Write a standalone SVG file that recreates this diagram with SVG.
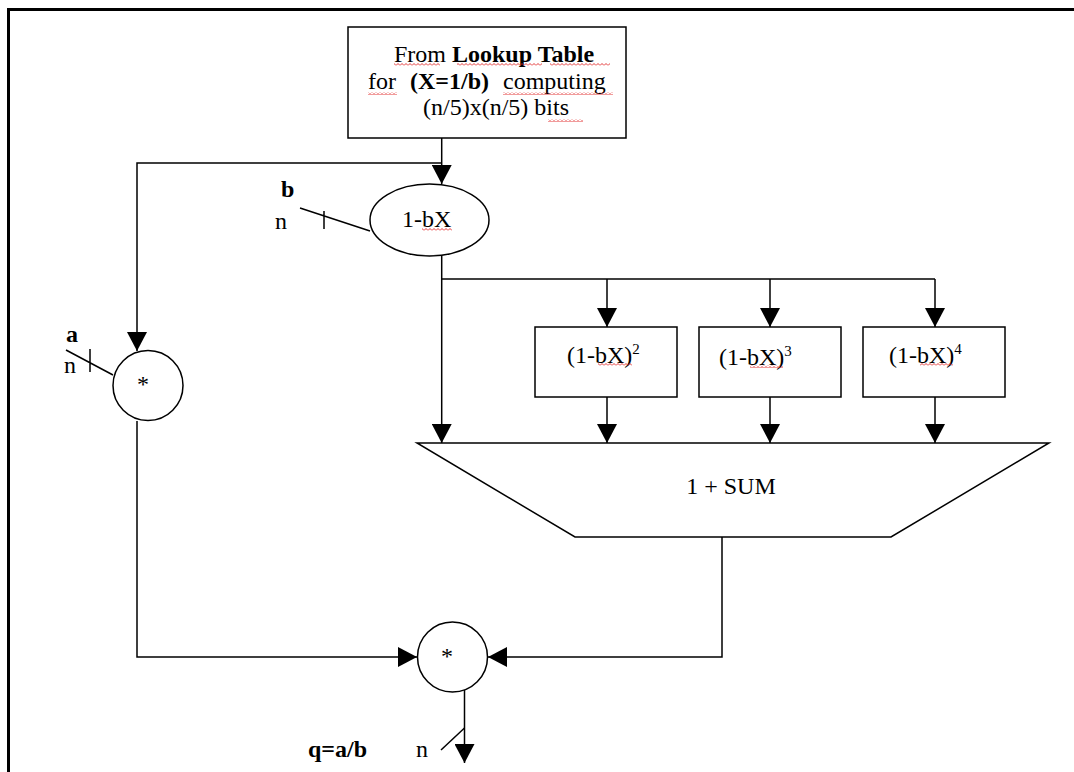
<svg xmlns="http://www.w3.org/2000/svg" width="1074" height="772" viewBox="0 0 1074 772">
<style>
  .ln{fill:none;stroke:#000;stroke-width:1.5}
  .sh{fill:#fff;stroke:#000;stroke-width:1.5}
  .t{font-family:"Liberation Serif","Times New Roman",serif;font-size:24px;fill:#000}
  .b{font-weight:bold}
  .sup{font-size:15px}
  .arr{fill:none;stroke:#000;stroke-width:1.5;marker-end:url(#ah)}
</style>
<defs>
  <marker id="ah" markerUnits="userSpaceOnUse" markerWidth="20" markerHeight="20" refX="19" refY="10" orient="auto">
    <path d="M0,0 L19,10 L0,20 Z" fill="#000"/>
  </marker>
  <pattern id="sq" width="4" height="3" patternUnits="userSpaceOnUse">
    <path d="M0,2.5 L2,0.5 L4,2.5" fill="none" stroke="#e02020" stroke-width="0.9"/>
  </pattern>
</defs>
<rect width="1074" height="772" fill="#fff"/>
<!-- outer frame -->
<path d="M7,9.5 H1074 M8.5,8 V772" fill="none" stroke="#000" stroke-width="3"/>

<g id="connectors">
  <path class="arr" d="M441.7,138 V184"/>
  <path class="arr" d="M441.7,163 H137 V351"/>
  <path class="arr" d="M441.7,256 V443"/>
  <path class="ln" d="M441.7,279 H935"/>
  <path class="arr" d="M607,279 V327"/>
  <path class="arr" d="M770,279 V327"/>
  <path class="arr" d="M935,279 V327"/>
  <path class="arr" d="M607,397 V443"/>
  <path class="arr" d="M770,397 V443"/>
  <path class="arr" d="M935,397 V443"/>
  <path class="arr" d="M722,537 V657 H488"/>
  <path class="arr" d="M137,421 V657 H417"/>
  <path class="arr" d="M464.5,690 V763"/>
  <!-- bus width marks -->
  <path class="ln" d="M300,208 L370,231 M324,211 V229"/>
  <path class="ln" d="M66,350 L113,375 M90,349 V372"/>
  <path class="ln" d="M441,750 L464.5,728"/>
</g>

<g id="lookup">
  <rect class="sh" x="348" y="27" width="278" height="111"/>
  <text class="t" y="62"><tspan x="394">From </tspan><tspan class="b">Lookup Table</tspan></text>
  <text class="t" y="89"><tspan x="368">for</tspan><tspan class="b" x="410">(X=1/b)</tspan><tspan x="503">computing</tspan></text>
  <text class="t" x="423" y="115">(n/5)x(n/5) bits</text>
  <rect x="394" y="63" width="46" height="3" fill="url(#sq)"/>
  <rect x="457" y="63" width="85" height="3" fill="url(#sq)"/>
  <rect x="550" y="63" width="60" height="3" fill="url(#sq)"/>
  <rect x="368" y="92" width="29" height="3" fill="url(#sq)"/>
  <rect x="503" y="92" width="110" height="3" fill="url(#sq)"/>
  <rect x="548" y="119" width="35" height="3" fill="url(#sq)"/>
</g>

<g id="oneMinusBX">
  <ellipse class="sh" cx="429.5" cy="220" rx="59.5" ry="36"/>
  <text class="t" x="402" y="227">1-bX</text>
  <rect x="422" y="228" width="30" height="3" fill="url(#sq)"/>
</g>

<g id="labelB">
  <text class="t b" x="281" y="197">b</text>
  <text class="t" x="275" y="229">n</text>
</g>

<g id="mulA">
  <circle class="sh" cx="148" cy="385.5" r="35"/>
  <text class="t" x="137" y="392">*</text>
</g>

<g id="labelA">
  <text class="t b" x="66" y="342">a</text>
  <text class="t" x="64" y="373">n</text>
</g>

<g id="pow2">
  <rect class="sh" x="535" y="327" width="142" height="70"/>
  <text class="t" x="567" y="363">(1-bX)<tspan class="sup" dy="-9">2</tspan></text>
  <rect x="598" y="363" width="34" height="3" fill="url(#sq)"/>
</g>
<g id="pow3">
  <rect class="sh" x="699" y="327" width="142" height="70"/>
  <text class="t" x="719" y="365">(1-bX)<tspan class="sup" dy="-9">3</tspan></text>
  <rect x="750" y="365" width="33" height="3" fill="url(#sq)"/>
</g>
<g id="pow4">
  <rect class="sh" x="863" y="327" width="142" height="70"/>
  <text class="t" x="889" y="363">(1-bX)<tspan class="sup" dy="-9">4</tspan></text>
  <rect x="920" y="363" width="33" height="3" fill="url(#sq)"/>
</g>

<g id="sum">
  <path class="sh" d="M417,443 H1049 L891,537 H575 Z"/>
  <text class="t" x="731" y="494" text-anchor="middle">1 + SUM</text>
</g>

<g id="mulOut">
  <ellipse class="sh" cx="452.5" cy="657" rx="35" ry="35"/>
  <text class="t" x="441" y="664">*</text>
</g>

<g id="labelQ">
  <text class="t b" x="308" y="757">q=a/b</text>
  <text class="t" x="416" y="757">n</text>
</g>
</svg>
